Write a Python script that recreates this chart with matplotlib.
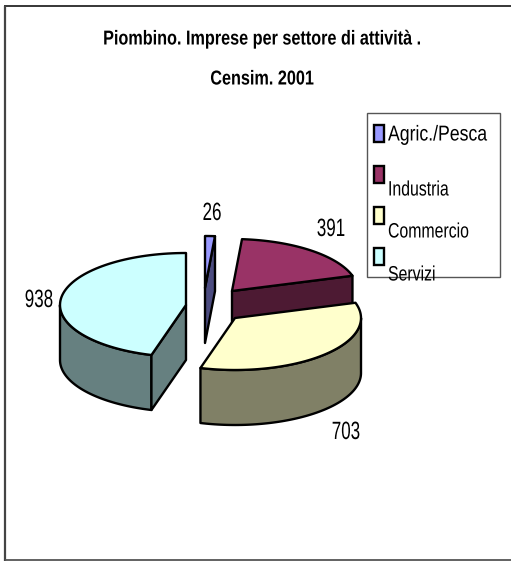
import numpy as np
import matplotlib
matplotlib.use('Agg')
import matplotlib.pyplot as plt
from matplotlib.patches import Polygon, Rectangle
from matplotlib.patheffects import AbstractPathEffect
from matplotlib.transforms import Affine2D

categorie = ['Agric./Pesca', 'Industria', 'Commercio', 'Servizi']
imprese = [26, 391, 703, 938]

colori = ['#9999FF', '#993366', '#FFFFCC', '#CCFFFF']
colori_lato = ['#4C4C80', '#4D1A33', '#808066', '#668080']

plt.rcParams['font.family'] = ['Liberation Sans']


# il font dell'originale e' stretto: comprime il testo in orizzontale attorno a x0
class Stretto(AbstractPathEffect):
    def __init__(self, x0, sx):
        super().__init__()
        self.x0 = x0
        self.sx = sx

    def draw_path(self, renderer, gc, tpath, affine, rgbFace=None):
        t = affine + Affine2D().translate(-self.x0, 0).scale(self.sx, 1).translate(self.x0, 0)
        renderer.draw_path(gc, tpath, t, rgbFace)


def testo(x, y, s, size, sx=0.76, **kw):
    ax.text(x, y, s, va='center', fontsize=size, path_effects=[Stretto(x, sx)], **kw)


fig = plt.figure(figsize=(5.11, 5.61), dpi=100)
ax = fig.add_axes([0, 0, 1, 1])
ax.set_xlim(0, 511)
ax.set_ylim(561, 0)
ax.axis('off')

# cornice del grafico (a destra non c'e')
ax.plot([4, 511], [6, 6], color='black', lw=1.1, solid_capstyle='butt')
ax.plot([5, 5], [6, 561], color='#444444', lw=1.6, solid_capstyle='butt')
ax.plot([5, 511], [560, 560], color='#555555', lw=1.3, solid_capstyle='butt')

testo(262, 39, 'Piombino. Imprese per settore di attività .', 14.5, sx=0.805, ha='center', fontweight='bold')
testo(262, 79, 'Censim. 2001', 14.5, sx=0.805, ha='center', fontweight='bold')

# torta 3D esplosa
RX, RY, H = 126, 52, 55
centri = [(205, 288), (232, 291), (235, 318), (186, 305)]
pos_label = [(212, 213), (331, 229), (346, 432), (39, 300)]


def arco(c, a0, a1):
    t = np.radians(np.linspace(a0, a1, 80))
    return np.column_stack([c[0] + RX * np.sin(t), c[1] - RY * np.cos(t)])


def disegna_fetta(i, a0, a1):
    c = centri[i]
    lw = 1.7
    giu = np.array([0, H])
    # parte esterna visibile (solo la meta' davanti)
    v0, v1 = max(a0, 90), min(a1, 270)
    if v1 > v0:
        pts = arco(c, v0, v1)
        ax.add_patch(Polygon(np.vstack([pts, (pts + giu)[::-1]]), fc=colori_lato[i], ec='black', lw=lw,
                             joinstyle='round'))
    # faccia di taglio verso destra
    fine = arco(c, a0, a1)
    if a1 <= 180:
        p = fine[-1]
        ax.add_patch(Polygon([c, p, p + giu, np.array(c) + giu], fc=colori_lato[i], ec='black', lw=lw,
                             joinstyle='round'))
    elif a0 >= 180:
        p = fine[0]
        ax.add_patch(Polygon([c, p, p + giu, np.array(c) + giu], fc=colori_lato[i], ec='black', lw=lw,
                             joinstyle='round'))
    # faccia superiore
    ax.add_patch(Polygon(np.vstack([[c], fine]), fc=colori[i], ec='black', lw=lw, joinstyle='round'))


angoli = np.concatenate([[0], np.cumsum(imprese) / np.sum(imprese) * 360])

# legenda
ax.add_patch(Rectangle((367, 113), 133, 164, fc='white', ec='#555555', lw=1))
sw_y = [125, 166, 207, 248]
txt_y = [135, 190, 232, 275]
txt_size = [15.5, 15, 15, 15]
txt_sx = [0.82, 0.76, 0.76, 0.76]
for i, nome in enumerate(categorie):
    ax.add_patch(Rectangle((374, sw_y[i]), 10, 17, fc=colori[i], ec='black', lw=1.7))
    testo(388, txt_y[i], nome, txt_size[i], sx=txt_sx[i])

for i in [0, 1, 3, 2]:
    disegna_fetta(i, angoli[i], angoli[i + 1])

for i, v in enumerate(imprese):
    testo(pos_label[i][0], pos_label[i][1], str(v), 18, sx=0.68, ha='center')

fig.savefig('out.png', dpi=100)
